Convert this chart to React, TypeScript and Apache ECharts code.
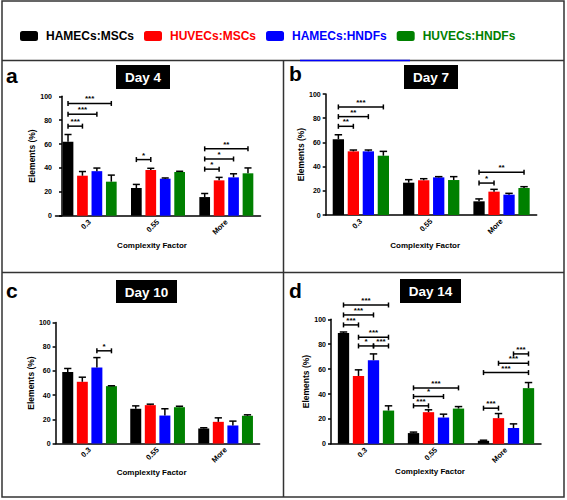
import React, { useEffect, useRef } from "react";
import * as echarts from "echarts";

const categories = ["0.3", "0.55", "More"];
const groups = ["HAMECs:MSCs", "HUVECs:MSCs", "HAMECs:HNDFs", "HUVECs:HNDFs"];
const colors = ["#000000", "#ff0000", "#0000ff", "#008000"];
const dayTitles = ["Day 4", "Day 7", "Day 10", "Day 14"];
const panelLetters = ["a", "b", "c", "d"];
const yTicks = [0, 20, 40, 60, 80, 100];

// means [group][category]
const day4Means = [[62, 23.2, 15.6], [33.5, 38.3, 29.6], [37.3, 31, 32.1], [28.5, 36.6, 35.5]];
const day4Errs = [[6, 3, 3], [3.5, 1.4, 2.5], [2.6, 0.6, 3], [5.5, 0.6, 4.5]];
const day7Means = [[62.7, 26.7, 11.3], [52.6, 28.7, 19.3], [52.6, 31.1, 16.8], [49, 28.9, 22.3]];
const day7Errs = [[3.6, 2.5, 2], [1.1, 1.3, 1.9], [1.1, 0.6, 1.1], [3.6, 2.8, 1.1]];
const day10Means = [[59, 28.7, 12.4], [51, 31.7, 17.9], [62.8, 23.1, 14.9], [47.4, 30, 22.9]];
const day10Errs = [[3, 2.4, 0.6], [3.8, 0.8, 3.3], [8.2, 5.6, 3.6], [0.3, 0.8, 0.8]];
const day14Means = [[89, 8.6, 2.4], [54.5, 25.4, 20.6], [67.1, 21.1, 12.6], [26.7, 28.3, 44.7]];
const day14Errs = [[0.8, 0.8, 0.5], [4.9, 1.9, 3.7], [5.1, 2.7, 3.4], [3.8, 1.6, 4.5]];

// significance brackets: [category, fromGroup, toGroup, y value, label]
const day4Sig: [number, number, number, number, string][] = [
  [0, 0, 1, 75, "***"], [0, 0, 2, 85, "***"], [0, 0, 3, 94, "***"],
  [1, 0, 1, 47, "*"],
  [2, 0, 1, 39, "*"], [2, 0, 2, 47.5, "*"], [2, 0, 3, 56, "**"],
];
const day7Sig: [number, number, number, number, string][] = [
  [0, 0, 1, 73.3, "**"], [0, 0, 2, 81.3, "**"], [0, 0, 3, 89.3, "***"],
  [2, 0, 1, 26.4, "*"], [2, 0, 3, 35.3, "**"],
];
const day10Sig: [number, number, number, number, string][] = [[0, 2, 3, 76.6, "*"]];
const day14Sig: [number, number, number, number, string][] = [
  [0, 0, 1, 95.5, "***"], [0, 0, 2, 103.5, "***"], [0, 0, 3, 111.5, "***"],
  [0, 1, 3, 85.6, "***"], [0, 1, 2, 78.6, "*"], [0, 2, 3, 78.6, "***"],
  [1, 0, 1, 30.5, "***"], [1, 0, 2, 38, "*"], [1, 0, 3, 44.9, "***"],
  [2, 0, 1, 28.6, "***"], [2, 0, 3, 57.2, "***"], [2, 1, 3, 64.7, "***"], [2, 2, 3, 72.2, "***"],
];

const allMeans = [day4Means, day7Means, day10Means, day14Means];
const allErrs = [day4Errs, day7Errs, day10Errs, day14Errs];
const allSig = [day4Sig, day7Sig, day10Sig, day14Sig];

const FONT = "'Liberation Sans', Arial, sans-serif";

// layout per panel
const layouts = [
  { left: 55.5, top: 96.3, width: 205, height: 119.4, yOffset: -6.5, labelMargin: 10, barWidth: 10.7, pitch: 14.43, yNameGap: 24, xNameGap: 26 },
  { left: 325.7, top: 94, width: 211, height: 121, yOffset: 0, labelMargin: 5, barWidth: 11.3, pitch: 15, yNameGap: 17, xNameGap: 26 },
  { left: 55.6, top: 322.5, width: 204, height: 121, yOffset: 0, labelMargin: 5, barWidth: 11, pitch: 14.57, yNameGap: 20, xNameGap: 25 },
  { left: 331, top: 319.3, width: 210, height: 124.5, yOffset: 0, labelMargin: 5, barWidth: 11.3, pitch: 15, yNameGap: 20, xNameGap: 22.5 },
];
const dayBoxes = [
  { x: 116, y: 65, w: 54, h: 24 },
  { x: 404, y: 65, w: 54, h: 24 },
  { x: 116, y: 280, w: 61, h: 23 },
  { x: 400, y: 279, w: 61, h: 24 },
];
const letterPos = [
  { x: 6, y: 86 },
  { x: 289, y: 84 },
  { x: 6, y: 301 },
  { x: 289, y: 301 },
];

function buildOption() {
  const grid: any[] = [];
  const xAxis: any[] = [];
  const yAxis: any[] = [];
  const series: any[] = [];
  layouts.forEach((L, p) => {
    grid.push({ left: L.left, top: L.top, width: L.width, height: L.height });
    xAxis.push({
      type: "category",
      gridIndex: p,
      data: categories,
      axisLine: { lineStyle: { color: "#000", width: 1.5 } },
      axisTick: { alignWithLabel: true, length: 3, lineStyle: { color: "#000", width: 1.5 } },
      axisLabel: { rotate: 45, fontSize: 7.5, fontWeight: "bold", color: "#000", margin: 5, fontFamily: FONT },
      name: "Complexity Factor",
      nameLocation: "middle",
      nameGap: L.xNameGap,
      nameTextStyle: { fontWeight: "bold", fontSize: 8, color: "#000", fontFamily: FONT, padding: [0, 12, 0, 0] },
    });
    yAxis.push({
      type: "value",
      gridIndex: p,
      min: 0,
      max: 100,
      interval: 20,
      offset: L.yOffset,
      splitLine: { show: false },
      axisLine: { show: true, lineStyle: { color: "#000", width: 1.5 } },
      axisTick: { show: true, length: 3, lineStyle: { color: "#000", width: 1.5 } },
      axisLabel: { fontSize: 7, fontWeight: "bold", color: "#000", margin: L.labelMargin, fontFamily: FONT },
      name: "Elements (%)",
      nameLocation: "middle",
      nameGap: L.yNameGap,
      nameTextStyle: { fontWeight: "bold", fontSize: 8.5, color: "#000", fontFamily: FONT },
    });
    const gapPct = ((L.pitch - L.barWidth) / L.barWidth) * 100 + "%";
    groups.forEach((g, gi) => {
      series.push({
        type: "bar",
        name: g,
        xAxisIndex: p,
        yAxisIndex: p,
        barWidth: L.barWidth,
        barGap: gapPct,
        itemStyle: { color: colors[gi] },
        data: allMeans[p][gi],
      });
    });
    // error bars
    const errData: number[][] = [];
    groups.forEach((g, gi) => {
      categories.forEach((c, ci) => {
        errData.push([ci, allMeans[p][gi][ci], allErrs[p][gi][ci], gi]);
      });
    });
    series.push({
      type: "custom",
      name: "err" + p,
      xAxisIndex: p,
      yAxisIndex: p,
      clip: false,
      z: 5,
      encode: { x: 0, y: 1 },
      data: errData,
      renderItem: (params: any, api: any) => {
        const ci = api.value(0);
        const m = api.value(1);
        const e = api.value(2);
        const gi = api.value(3);
        const a = api.coord([ci, m]);
        const b = api.coord([ci, m + e]);
        const x = a[0] + (gi - 1.5) * L.pitch;
        const hw = L.barWidth * 0.33;
        const st = { stroke: "#000", lineWidth: 1.5 };
        return {
          type: "group",
          children: [
            { type: "line", shape: { x1: x, y1: a[1], x2: x, y2: b[1] }, style: st },
            { type: "line", shape: { x1: x - hw, y1: b[1], x2: x + hw, y2: b[1] }, style: st },
          ],
        };
      },
    });
    const sig = allSig[p];
    series.push({
      type: "custom",
      name: "sig" + p,
      xAxisIndex: p,
      yAxisIndex: p,
      clip: false,
      z: 6,
      encode: { x: 0, y: 3 },
      data: sig.map((s) => [s[0], s[1], s[2], s[3]]),
      renderItem: (params: any, api: any) => {
        const s = sig[params.dataIndex];
        const c = api.coord([s[0], s[3]]);
        const x1 = c[0] + (s[1] - 1.5) * L.pitch;
        const x2 = c[0] + (s[2] - 1.5) * L.pitch;
        const y = c[1];
        const st = { stroke: "#000", lineWidth: 1.5 };
        return {
          type: "group",
          children: [
            { type: "line", shape: { x1, y1: y, x2, y2: y }, style: st },
            { type: "line", shape: { x1, y1: y - 2.5, x2: x1, y2: y + 2.5 }, style: st },
            { type: "line", shape: { x1: x2, y1: y - 2.5, x2, y2: y + 2.5 }, style: st },
            {
              type: "text",
              x: (x1 + x2) / 2,
              y: y - 0.5,
              style: { text: s[4], align: "center", verticalAlign: "bottom", font: `bold 8px ${FONT}`, fill: "#000" },
            },
          ],
        };
      },
    });
  });

  const graphic: any[] = [
    { type: "rect", shape: { x: 2, y: 1, width: 562, height: 496 }, style: { fill: "none", stroke: "#333", lineWidth: 1.5 }, silent: true },
    { type: "line", shape: { x1: 2, y1: 60.5, x2: 564, y2: 60.5 }, style: { stroke: "#333", lineWidth: 1.5 } },
    { type: "line", shape: { x1: 300, y1: 60.5, x2: 410, y2: 60.5 }, style: { stroke: "#0000ff", lineWidth: 1.5 } },
    { type: "line", shape: { x1: 283.5, y1: 60.5, x2: 283.5, y2: 497 }, style: { stroke: "#333", lineWidth: 1.5 } },
    { type: "line", shape: { x1: 2, y1: 272.5, x2: 564, y2: 272.5 }, style: { stroke: "#333", lineWidth: 1.5 } },
  ];
  dayBoxes.forEach((b, i) => {
    graphic.push({ type: "rect", shape: { x: b.x, y: b.y, width: b.w, height: b.h }, style: { fill: "#000" } });
    graphic.push({
      type: "text",
      x: b.x + b.w / 2,
      y: b.y + b.h / 2 + 0.5,
      style: { text: dayTitles[i], align: "center", verticalAlign: "middle", font: `bold 13.5px ${FONT}`, fill: "#fff" },
    });
    graphic.push({
      type: "text",
      x: letterPos[i].x,
      y: letterPos[i].y,
      style: { text: panelLetters[i], align: "left", verticalAlign: "bottom", font: `bold 21px ${FONT}`, fill: "#000" },
    });
  });

  return {
    animation: false,
    backgroundColor: "#fff",
    legend: {
      left: 15,
      top: 25,
      itemWidth: 18,
      itemHeight: 10,
      itemGap: 10,
      icon: "roundRect",
      selectedMode: false,
      textStyle: { fontSize: 12, fontWeight: "bold", fontFamily: FONT, padding: [0, 0, 0, 3] },
      data: groups.map((g, i) => ({ name: g, textStyle: { color: colors[i] } })),
    },
    grid,
    xAxis,
    yAxis,
    series,
    graphic,
  };
}

export default function App() {
  const ref = useRef<HTMLDivElement>(null);
  useEffect(() => {
    if (!ref.current) return;
    const chart = echarts.init(ref.current, undefined, { renderer: "svg" });
    chart.setOption(buildOption() as any);
    return () => chart.dispose();
  }, []);
  return (
    <div
      ref={ref}
      style={{ position: "absolute", left: 0, top: 0, width: 567, height: 500, background: "#fff" }}
    />
  );
}
